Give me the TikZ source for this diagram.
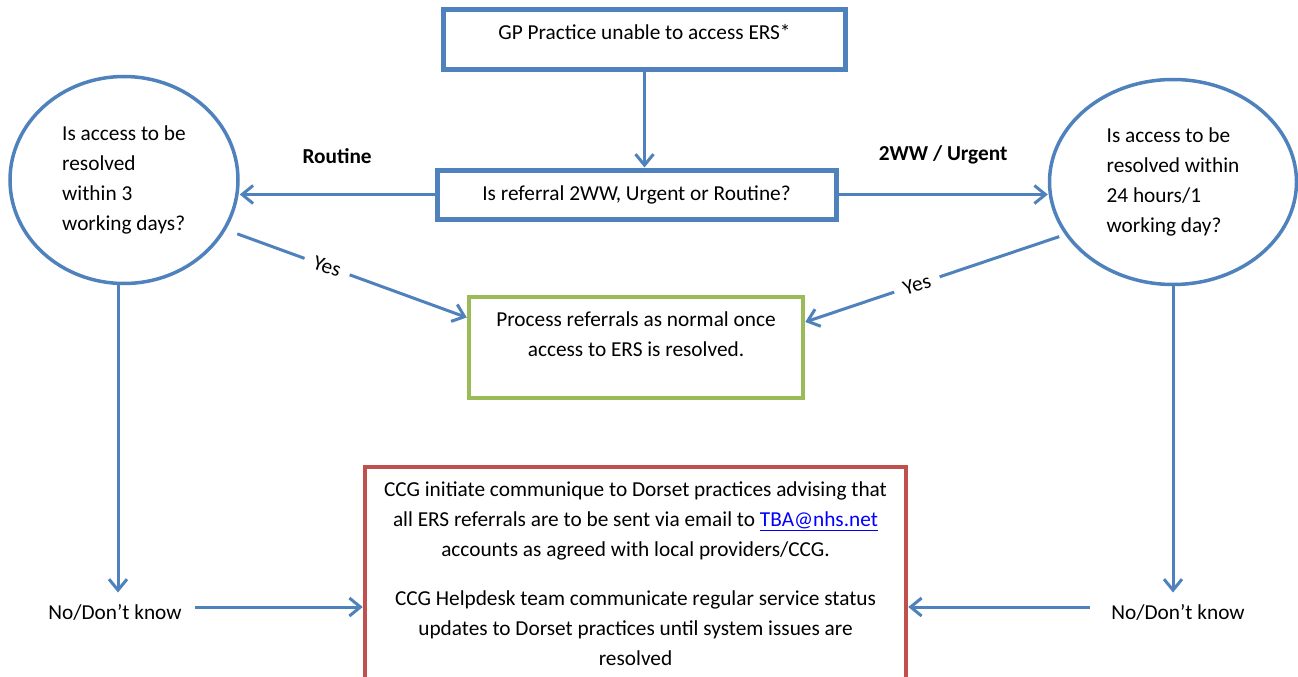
\documentclass[tikz,border=0pt]{standalone}
\usepackage{fontspec}
\setmainfont{Carlito}
\usetikzlibrary{shapes.geometric,arrows.meta}
\definecolor{flowblue}{HTML}{4F81BD}
\definecolor{flowgreen}{HTML}{9BBB59}
\definecolor{flowred}{HTML}{C0504D}
\newcommand\flowfont{\fontsize{21.3}{30}\selectfont}

\begin{document}
\begin{tikzpicture}
    [x=1pt, y=-1pt,
    every node/.style={font=\flowfont, text=black},
    stepbox/.style={rectangle, draw=flowblue, line width=5pt},
    question/.style={ellipse, draw=flowblue, line width=3.5pt, align=left},
    branchlabel/.style={font=\flowfont\bfseries},
    yeslabel/.style={fill=white, inner sep=10pt},
    flow/.style={draw=flowblue, line width=3pt, -{Straight Barb[length=11pt,width=18pt]}}
    ]
    \useasboundingbox (0,0) rectangle (1298,677);

    \node (gp) [stepbox, minimum width=402, minimum height=60,
        inner ysep=6pt, text height=24pt, text depth=24pt] at (644.5,40)
        {GP Practice unable to access ERS*};
    \node (ref) [stepbox, minimum width=399, minimum height=49] at (636.5,194.5)
        {Is referral 2WW, Urgent or Routine?};
    \node (lq) [question, minimum width=228, minimum height=207] at (124,180)
        {Is access to be\\resolved\\within 3\\working days?};
    \node (rq) [question, minimum width=247, minimum height=205] at (1173,182)
        {Is access to be\\resolved within\\24 hours/1\\working day?};
    \node (normal) [rectangle, draw=flowgreen, line width=4.5pt, align=center,
        minimum width=334, minimum height=101] at (636,347.5)
        {Process referrals as normal once\\access to ERS is resolved.\\[-12pt]\strut};
    \node (act) [rectangle, draw=flowred, line width=4.5pt, align=center,
        minimum width=541, minimum height=214] at (635.5,574)
        {CCG initiate communique to Dorset practices advising that\\
         all ERS referrals are to be sent via email to \textcolor{blue}{\underline{TBA@nhs.net}}\\
         accounts as agreed with local providers/CCG.\\[19pt]
         CCG Helpdesk team communicate regular service status\\
         updates to Dorset practices until system issues are\\
         resolved};
    \node (lno) at (115,612) {No/Don’t know};
    \node (rno) at (1178,612) {No/Don’t know};

    % connectors
    \draw[flow] (gp.south) -- (gp.south |- ref.north);
    \draw[flow] (ref.west) -- (ref.west -| lq.east)
        node[midway, above=26pt, branchlabel] {Routine};
    \draw[flow] (ref.east) -- (ref.east -| rq.west)
        node[midway, above=26pt, branchlabel] {2WW / Urgent};
    \draw[flow, shorten <=12pt] (lq.-26) -- ([yshift=30pt]normal.west)
        node[pos=0.42, yeslabel, rotate=-18.5] {Yes};
    \draw[flow, shorten <=6pt] (rq.206) -- ([yshift=25.5pt]normal.east)
        node[pos=0.57, yeslabel, rotate=17.6] {Yes};
    \draw[flow, shorten >=8pt] ([xshift=-6pt]lq.south) -- ([xshift=-6pt]lq.south |- lno.north);
    \draw[flow, shorten >=8pt] (rq.south) -- (rq.south |- rno.north);
    \draw[flow, shorten <=10pt] ([yshift=5pt]lno.east) -- ([yshift=5pt]lno.east -| act.west);
    \draw[flow, shorten <=18pt] ([yshift=5pt]rno.west) -- ([yshift=5pt]rno.west -| act.east);
\end{tikzpicture}
\end{document}
